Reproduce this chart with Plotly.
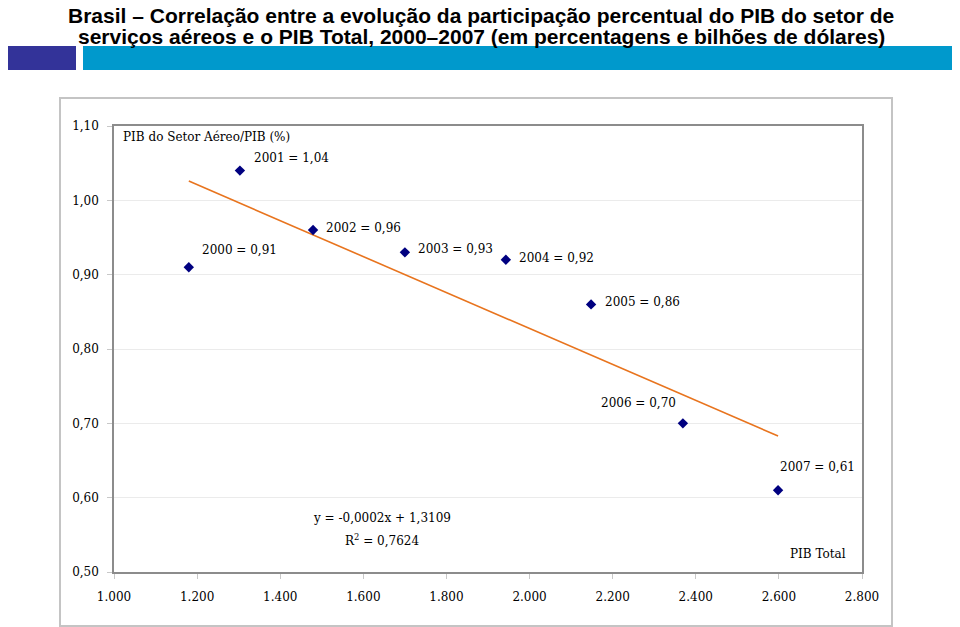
import numpy as np
import plotly.graph_objects as go

# ---------------- data ----------------
years = [2000, 2001, 2002, 2003, 2004, 2005, 2006, 2007]
pib_total = [1180, 1303, 1479, 1700, 1943, 2148, 2369, 2598]          # bilhões de dólares
pib_aereo_share = [0.91, 1.04, 0.96, 0.93, 0.92, 0.86, 0.70, 0.61]     # %

x_tick_vals = [1000, 1200, 1400, 1600, 1800, 2000, 2200, 2400, 2600, 2800]
x_tick_text = ["1.000", "1.200", "1.400", "1.600", "1.800", "2.000", "2.200", "2.400", "2.600", "2.800"]
y_tick_vals = [0.50, 0.60, 0.70, 0.80, 0.90, 1.00, 1.10]
y_tick_text = ["0,50", "0,60", "0,70", "0,80", "0,90", "1,00", "1,10"]

title_line1 = "Brasil – Correlação entre a evolução da participação percentual do PIB do setor de"
title_line2 = "serviços aéreos e o PIB Total, 2000–2007 (em percentagens e bilhões de dólares)"
y_axis_label = "PIB do Setor Aéreo/PIB (%)"
x_axis_label = "PIB Total"
equation_text = "y = -0,0002x + 1,3109"
r2_text = "R<sup>2</sup> = 0,7624"

# ---------------- layout geometry ----------------
OFF = 8  # page body margin of the browser
W, H = 960 - OFF, 627 - OFF
PW, PH = 748, 446
L, T = 114 - OFF, 126 - OFF
R, B = W - L - PW, H - T - PH


def fx(x):
    """reference-screen x pixel -> paper fraction"""
    return (x - OFF - L) / PW


def fy(y):
    """reference-screen y pixel -> paper fraction"""
    return (T + PH - (y - OFF)) / PH


SERIF = "DejaVu Serif"
SANS = "Liberation Sans, Arial, sans-serif"

# label offsets (pixels): (xshift, yshift, xanchor)
label_offsets = [(11, 17, "left"), (12, 13, "left"), (11, 2, "left"), (11, 3, "left"),
                 (11, 2, "left"), (12, 2, "left"), (-5, 20, "right"), (0, 23, "left")]

fig = go.Figure()

# trend line (least squares)
coef = np.polyfit(pib_total, pib_aereo_share, 1)
tx = np.array([min(pib_total), max(pib_total)], dtype=float)
ty = np.polyval(coef, tx)
fig.add_trace(go.Scatter(x=tx, y=ty, mode="lines",
                         line=dict(color="#E8741E", width=1.6),
                         hoverinfo="skip", showlegend=False))

fig.add_trace(go.Scatter(x=pib_total, y=pib_aereo_share, mode="markers",
                         marker=dict(symbol="diamond", size=8, color="#000080",
                                     line=dict(width=0)),
                         showlegend=False))

annotations = []
for yr, xv, yv, (dx, dy, anc) in zip(years, pib_total, pib_aereo_share, label_offsets):
    annotations.append(dict(x=xv, y=yv, xref="x", yref="y",
                            text=f"{yr} = {yv:.2f}".replace(".", ","),
                            showarrow=False, xanchor=anc, yanchor="middle",
                            xshift=dx, yshift=dy,
                            font=dict(family=SERIF, size=12, color="#000000")))

# axis labels inside plot
annotations.append(dict(x=fx(121), y=fy(137), xref="paper", yref="paper",
                        text=y_axis_label, showarrow=False, xanchor="left", yanchor="middle",
                        font=dict(family=SERIF, size=12, color="#000000")))
annotations.append(dict(x=fx(848), y=fy(554), xref="paper", yref="paper",
                        text=x_axis_label, showarrow=False, xanchor="right", yanchor="middle",
                        font=dict(family=SERIF, size=12, color="#000000")))
# equation
annotations.append(dict(x=fx(382), y=fy(518), xref="paper", yref="paper",
                        text=equation_text, showarrow=False, xanchor="center", yanchor="middle",
                        font=dict(family=SERIF, size=12, color="#000000")))
annotations.append(dict(x=fx(382), y=fy(540), xref="paper", yref="paper",
                        text=r2_text, showarrow=False, xanchor="center", yanchor="middle",
                        font=dict(family=SERIF, size=12, color="#000000")))
# title
annotations.append(dict(x=fx(481), y=fy(16), xref="paper", yref="paper",
                        text=f"<b>{title_line1}</b>", showarrow=False,
                        xanchor="center", yanchor="middle",
                        font=dict(family=SANS, size=21, color="#000000")))
annotations.append(dict(x=fx(481), y=fy(36), xref="paper", yref="paper",
                        text=f"<b>{title_line2}</b>", showarrow=False,
                        xanchor="center", yanchor="middle",
                        font=dict(family=SANS, size=21, color="#000000")))

shapes = [
    # header bars
    dict(type="rect", xref="paper", yref="paper", x0=fx(5), x1=fx(76), y0=fy(70), y1=fy(46),
         fillcolor="#333399", line=dict(width=0), layer="above"),
    dict(type="rect", xref="paper", yref="paper", x0=fx(83), x1=fx(957), y0=fy(70), y1=fy(46),
         fillcolor="#0099CC", line=dict(width=0), layer="above"),
    # outer chart frame
    dict(type="rect", xref="paper", yref="paper", x0=fx(60), x1=fx(892), y0=fy(626), y1=fy(98),
         fillcolor="rgba(0,0,0,0)", line=dict(color="#C4C4C4", width=2), layer="below"),
]

fig.update_layout(
    width=W, height=H,
    margin=dict(l=L, r=R, t=T, b=B, pad=0),
    paper_bgcolor="#FFFFFF", plot_bgcolor="#FFFFFF",
    showlegend=False,
    annotations=annotations,
    shapes=shapes,
    font=dict(family=SERIF, size=12, color="#000000"),
)

fig.update_xaxes(range=[1000, 2800], tickvals=x_tick_vals, ticktext=x_tick_text,
                 showgrid=False, zeroline=False,
                 showline=True, linecolor="#8C8C8C", linewidth=1.5, mirror=True,
                 ticks="outside", ticklen=5, tickcolor="#C8C8C8", tickwidth=1,
                 ticklabelstandoff=8,
                 tickfont=dict(family=SERIF, size=12, color="#000000"))
fig.update_yaxes(range=[0.5, 1.1], tickvals=y_tick_vals, ticktext=y_tick_text,
                 showgrid=True, gridcolor="#EBEBEB", gridwidth=1, zeroline=False,
                 showline=True, linecolor="#8C8C8C", linewidth=1.5, mirror=True,
                 ticks="outside", ticklen=5, tickcolor="#C8C8C8", tickwidth=1,
                 ticklabelstandoff=6,
                 tickfont=dict(family=SERIF, size=12, color="#000000"))

fig.write_html("out.html")
